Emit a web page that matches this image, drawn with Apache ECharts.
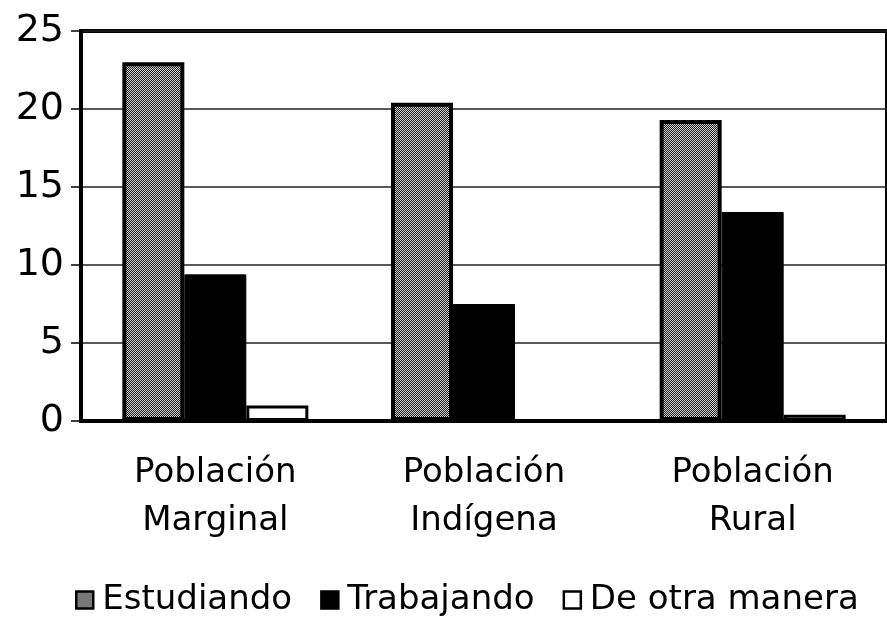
<!DOCTYPE html>
<html>
<head>
<meta charset="utf-8">
<script src="https://cdn.jsdelivr.net/npm/echarts@6/dist/echarts.min.js"></script>
<style>
  html, body { margin: 0; padding: 0; background: #fff; }
  #chart { width: 887px; height: 622px; }
</style>
</head>
<body>
<div id="chart"></div>
<script>
// Categories and values (percent of population)
const categories = ['Población\nMarginal', 'Población\nIndígena', 'Población\nRural'];
const estudiando = [23.0, 20.4, 19.3];
const trabajando = [9.4, 7.5, 13.4];
const deOtraManera = [1.0, 0.0, 0.4];
const seriesNames = ['Estudiando', 'Trabajando', 'De otra manera'];
const yTicks = { min: 0, max: 25, interval: 5 };

// Fine stipple fill for the "Estudiando" bars
function stipple() {
  const c = document.createElement('canvas');
  c.width = 2; c.height = 2;
  const g = c.getContext('2d');
  g.fillStyle = '#1c1c1c';
  g.fillRect(0, 0, 2, 2);
  g.fillStyle = '#d6d6d6';
  g.fillRect(0, 0, 1, 1);
  g.fillRect(1, 1, 1, 1);
  return { image: c, repeat: 'repeat' };
}

const FONT = 'DejaVu Sans';
const chart = echarts.init(document.getElementById('chart'), null, { renderer: 'canvas' });

chart.setOption({
  animation: false,
  backgroundColor: '#fff',
  grid: {
    left: 81, right: -12, top: 31, bottom: 201,
    show: true, borderColor: '#000', borderWidth: 4, backgroundColor: 'transparent'
  },
  legend: {
    bottom: 0, left: 70,
    icon: 'rect',
    itemWidth: 17, itemHeight: 17, itemGap: 28,
    itemStyle: { borderColor: '#000', borderWidth: 2.5 },
    textStyle: { fontFamily: FONT, fontSize: 34, color: '#000', padding: [0, 0, 0, 4] },
    data: [
      { name: seriesNames[0], itemStyle: { color: stipple() } },
      { name: seriesNames[1] },
      { name: seriesNames[2] }
    ]
  },
  xAxis: {
    type: 'category',
    data: categories,
    axisLine: { show: true, lineStyle: { color: '#000', width: 4 } },
    axisTick: { show: false },
    axisLabel: { fontFamily: FONT, fontSize: 34, color: '#000', margin: 28, lineHeight: 48 }
  },
  yAxis: {
    type: 'value',
    min: yTicks.min, max: yTicks.max, interval: yTicks.interval,
    axisLine: { show: true, lineStyle: { color: '#000', width: 3 } },
    axisTick: { show: true, length: 10, lineStyle: { color: '#000', width: 1.5 } },
    axisLabel: { fontFamily: FONT, fontSize: 38, color: '#000', margin: 17 },
    splitLine: { show: true, lineStyle: { color: '#222', width: 1.5 } }
  },
  series: [
    {
      name: seriesNames[0], type: 'bar', data: estudiando,
      barWidth: 62, barGap: '0%',
      itemStyle: { color: stipple(), borderColor: '#000', borderWidth: 4 }
    },
    {
      name: seriesNames[1], type: 'bar', data: trabajando,
      barWidth: 62, barGap: '0%',
      itemStyle: { color: '#000', borderColor: '#000', borderWidth: 1 }
    },
    {
      name: seriesNames[2], type: 'bar', data: deOtraManera,
      barWidth: 62, barGap: '0%',
      itemStyle: { color: '#fff', borderColor: '#000', borderWidth: 3 }
    }
  ]
});
</script>
</body>
</html>
